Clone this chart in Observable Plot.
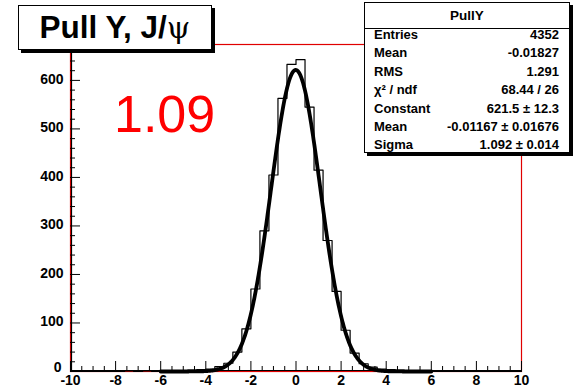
<!DOCTYPE html>
<html>
<head>
<meta charset="utf-8">
<script src="https://cdn.jsdelivr.net/npm/d3@7"></script>
<script src="https://cdn.jsdelivr.net/npm/@observablehq/plot@0.6"></script>
<style>
  html, body { margin: 0; padding: 0; background: #fff; }
  #wrap { position: relative; width: 575px; height: 389px; overflow: hidden; font-family: "Liberation Sans", Arial, Helvetica, sans-serif; }
  .box { position: absolute; background: #fff; border: 1px solid #000; box-shadow: 3px 3px 0 #000; box-sizing: border-box; }
  #title { left: 18px; top: 5px; width: 194px; height: 45px; }
  #title span { position: absolute; left: 0; right: 0; top: 4px; text-align: center; font-weight: bold; font-size: 31.5px; line-height: 35px; }
  #title .psi { font-family: "DejaVu Serif", serif; font-weight: normal; font-size: 30px; }
  #stats { left: 364px; top: 2px; width: 206px; height: 151px; }
  #stats .hdr { position: absolute; left: 0; right: 0; top: 0; height: 25px; border-bottom: 1px solid #000; text-align: center; font-weight: bold; font-size: 13.5px; line-height: 25px; }
  #stats .row { position: absolute; left: 9px; right: 10px; height: 18px; font-weight: bold; font-size: 13px; line-height: 18px; }
  #stats .row .l { position: absolute; left: 0; }
  #stats .row .r { position: absolute; right: 0; }
  #big { position: absolute; left: 114px; top: 84px; color: #ff0000; font-size: 52px; line-height: 60px; font-family: "Liberation Sans", Arial, sans-serif; }
</style>
</head>
<body>
<div id="wrap"></div>
<script>
// ---- data ----
const binStart = -10;
const binWidth = 0.4;
const counts = [
  0, 0, 0, 0, 0, 0, 1, 0, 1, 0,
  1, 2, 2, 3, 4, 5, 10, 17, 40, 88,
  170, 290, 405, 563, 633, 643, 545, 415, 270, 165,
  85, 38, 16, 9, 5, 4, 3, 2, 1, 1,
  0, 0, 0, 0, 0, 0, 0, 0, 0, 0
];
const fitConstant = 621.5;
const fitMean = -0.01167;
const fitSigma = 1.092;
const fitRange = [-6, 6];

const xMajor = [-10, -8, -6, -4, -2, 0, 2, 4, 6, 8, 10];
const yMajor = [100, 200, 300, 400, 500, 600];
const yZero = [0];

const titleText = "Pull Y, J/";
const titleSymbol = "ψ";
const statsTitle = "PullY";
const statLabels = ["Entries", "Mean", "RMS", "χ² / ndf", "Constant", "Mean", "Sigma"];
const statValues = ["4352", "-0.01827", "1.291", "68.44 / 26", "621.5 ± 12.3", "-0.01167 ± 0.01676", "1.092 ± 0.014"];
const bigLabel = "1.09";

// ---- derived ----
const histPts = [];
counts.forEach((c, i) => {
  const x0 = binStart + i * binWidth, x1 = x0 + binWidth;
  histPts.push({x: x0, y: c}, {x: x1, y: c});
});
histPts.unshift({x: binStart, y: 0});
histPts.push({x: binStart + counts.length * binWidth, y: 0});

const fitPts = d3.range(fitRange[0], fitRange[1] + 1e-9, 0.02).map(x => ({
  x, y: fitConstant * Math.exp(-0.5 * ((x - fitMean) / fitSigma) ** 2)
}));

const xMinor = d3.range(-10, 10.001, 0.5);
const yMinor = d3.range(0, 661, 20);
const yMax = 674;
const pxPerY = 327 / yMax; // used only for tick lengths
const xTickLen = (d) => (Math.abs(d % 2) < 1e-9 ? 10 : 5) / pxPerY;
const pxPerX = 451 / 20;
const yTickLen = (d) => (d % 100 === 0 ? 10 : 5) / pxPerX;

const axisTextOpts = {tickSize: 0, fontSize: 14, fontWeight: "bold", fill: "black", label: null, tickFormat: d => String(d)};

const plot = Plot.plot({
  width: 575,
  height: 389,
  marginLeft: 70,
  marginRight: 54,
  marginTop: 44,
  marginBottom: 18,
  x: {domain: [-10, 10]},
  y: {domain: [0, yMax]},
  style: {fontFamily: "'Liberation Sans', Arial, Helvetica, sans-serif", background: "white", overflow: "visible"},
  marks: [
    Plot.frame({stroke: "#e00000", strokeWidth: 1.2}),
    Plot.line(histPts, {x: "x", y: "y", stroke: "black", strokeWidth: 1.2}),
    Plot.line(fitPts, {x: "x", y: "y", stroke: "black", strokeWidth: 3.8, strokeLinejoin: "round", strokeLinecap: "round"}),
    Plot.ruleX([-10], {stroke: "black", strokeWidth: 1.2, dx: 1}),
    Plot.ruleY([0], {stroke: "black", strokeWidth: 1, dy: -1}),
    Plot.ruleX(xMinor, {x: d => d, y1: 0, y2: d => xTickLen(d), stroke: "black", strokeWidth: 1}),
    Plot.ruleY(yMinor, {y: d => d, x1: -10, x2: d => -10 + yTickLen(d), stroke: "black", strokeWidth: 1}),
    Plot.axisX(xMajor, {...axisTextOpts, tickPadding: 4}),
    Plot.axisY(yMajor, {...axisTextOpts, tickPadding: 7, dy: -1}),
    Plot.axisY(yZero, {...axisTextOpts, tickPadding: 9, dy: -4})
  ]
});

const wrap = document.getElementById("wrap");
wrap.appendChild(plot);

const title = document.createElement("div");
title.className = "box"; title.id = "title";
const ts = document.createElement("span");
ts.textContent = titleText;
const psi = document.createElement("span");
psi.className = "psi"; psi.style.position = "static"; psi.textContent = titleSymbol;
ts.appendChild(psi);
title.appendChild(ts);
wrap.appendChild(title);

const stats = document.createElement("div");
stats.className = "box"; stats.id = "stats";
const hdr = document.createElement("div");
hdr.className = "hdr"; hdr.textContent = statsTitle;
stats.appendChild(hdr);
statLabels.forEach((lab, i) => {
  const row = document.createElement("div");
  row.className = "row";
  row.style.top = (23 + i * 18.4) + "px";
  const l = document.createElement("span"); l.className = "l"; l.textContent = lab;
  const r = document.createElement("span"); r.className = "r"; r.textContent = statValues[i];
  row.appendChild(l); row.appendChild(r);
  stats.appendChild(row);
});
wrap.appendChild(stats);

const big = document.createElement("div");
big.id = "big"; big.textContent = bigLabel;
wrap.appendChild(big);
</script>
</body>
</html>
